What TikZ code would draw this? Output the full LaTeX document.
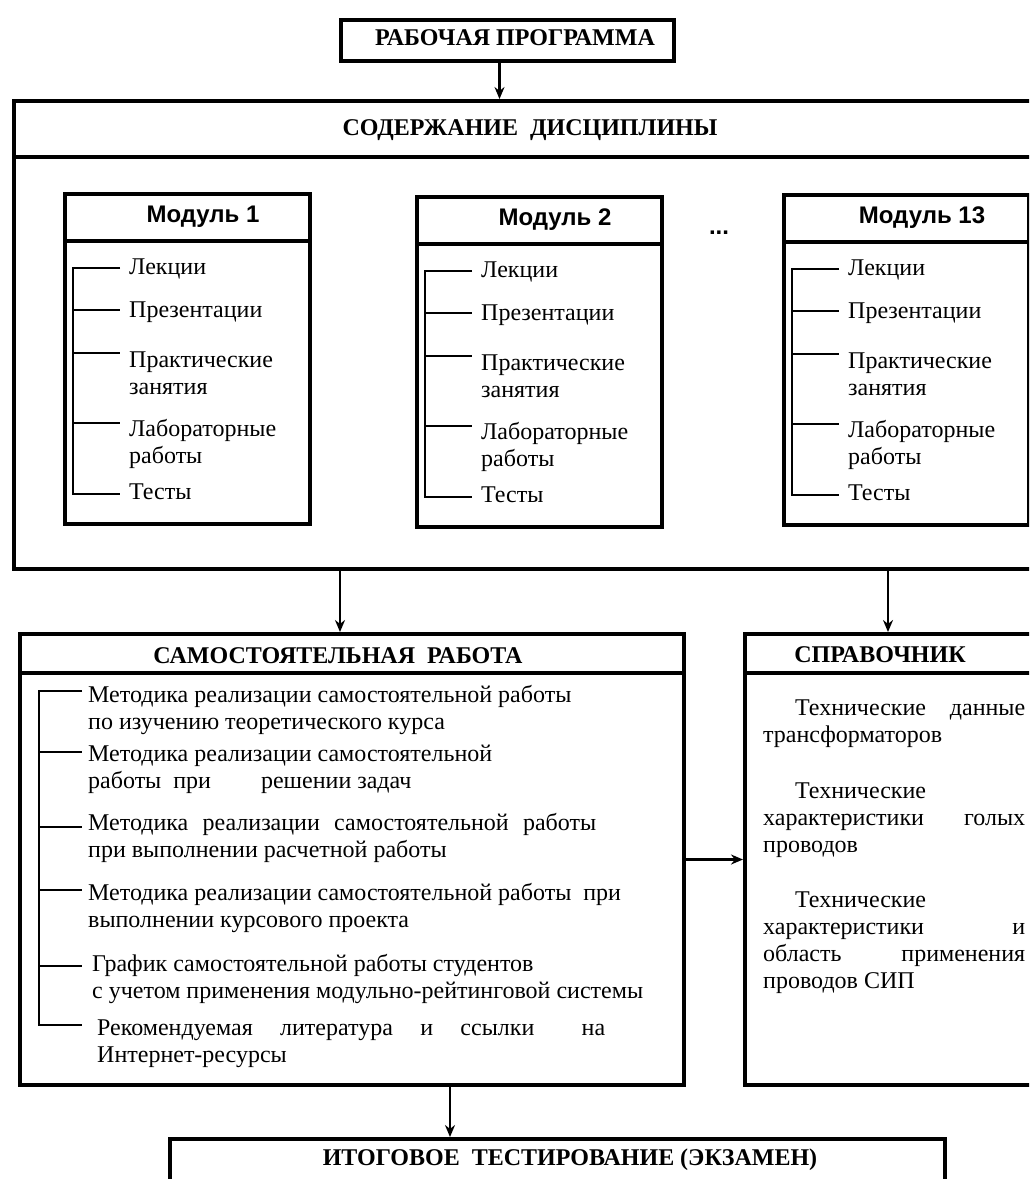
\documentclass[tikz,border=0pt]{standalone}
\usepackage{fontspec}
\setmainfont{Liberation Serif}
\setsansfont{Liberation Sans}
\usetikzlibrary{arrows.meta}

\newcommand\itemfont{\fontsize{24}{27}\selectfont}
\newcommand\headfont{\fontsize{24}{28}\selectfont\bfseries}
\newcommand\modfont{\fontsize{24}{28}\selectfont\sffamily\bfseries}

\begin{document}
\begin{tikzpicture}[x=1pt,y=-1pt,>={Stealth[length=12pt,width=10pt]},
  panel/.style={draw,line width=4pt,inner sep=0pt,anchor=north west},
  divider/.style={line width=3.8pt},
  twig/.style={line width=2.6pt},
  arr/.style={line width=2.4pt,->},
  headtxt/.style={font=\headfont,inner sep=0pt},
  modtxt/.style={font=\modfont,inner sep=0pt},
  entry/.style={font=\itemfont,anchor=west,align=left,inner sep=0pt}]
\useasboundingbox (0,0) rectangle (1029,1179);
\clip (0,0) rectangle (1029,1179);
% work programme
\node[panel,minimum width=333pt,minimum height=41pt] (prog) at (339,18) {};
\node[headtxt] (progtitle) at (515,38) {РАБОЧАЯ ПРОГРАММА};
% course content
\node[panel,minimum width=1050pt,minimum height=468pt] (content) at (12,99) {};
\draw[divider] (12,157) -- (1062,157);
\node[headtxt] (contenttitle) at (530,130) {СОДЕРЖАНИЕ\ \ ДИСЦИПЛИНЫ};
% modules
\foreach \m/\x/\y/\n in {m1/63/192/1,m2/415/195/2,m13/782/193/13}{
  \node[panel,minimum width=245pt,minimum height=330pt] (\m) at (\x,\y) {};
  \draw[divider] (\x,\y+49) -- (\x+245,\y+49);
  \node[modtxt] (\m-title) at (\x+140,\y+25) {Модуль \n};
  \node[entry] (\m-lec) at (\x+66,\y+77) {Лекции};
  \node[entry] (\m-pres) at (\x+66,\y+120) {Презентации};
  \node[entry] (\m-prac) at (\x+66,\y+181) {Практические\\занятия};
  \node[entry] (\m-lab) at (\x+66,\y+252) {Лабораторные\\работы};
  \node[entry] (\m-test) at (\x+66,\y+300) {Тесты};
  \draw[twig] (\x+57,\y+76) -| (\x+10,\y+302) -- (\x+57,\y+302);
  \foreach \b in {118,161,231} \draw[twig] (\x+10,\y+\b) -- (\x+57,\y+\b);
}
\node[modtxt,anchor=base] (dots) at (719,234) {...};
% self-study
\node[panel,minimum width=664pt,minimum height=451pt] (selfwork) at (18,632) {};
\draw[divider] (18,673) -- (682,673);
\node[headtxt] (selftitle) at (338,656) {САМОСТОЯТЕЛЬНАЯ\ \ РАБОТА};
\node[entry] (s1) at (88,710) {Методика реализации самостоятельной работы\\по изучению теоретического курса};
\node[entry] (s2) at (88,769) {Методика реализации самостоятельной\\работы\ \ при\hspace{50pt}решении задач};
\node[entry] (s3) at (88,838) {\makebox[508pt][s]{Методика реализации самостоятельной работы}\\при выполнении расчетной работы};
\node[entry] (s4) at (88,908) {Методика реализации самостоятельной работы\ \ при\\выполнении курсового проекта};
\node[entry] (s5) at (92,979) {График самостоятельной работы студентов\\с учетом применения модульно-рейтинговой системы};
\node[entry] (s6) at (97,1044) {\makebox[508pt][s]{Рекомендуемая литература и ссылки\hspace{20pt} на}\\Интернет-ресурсы};
\draw[twig] (82,691) -| (39,1025) -- (82,1025);
\foreach \b in {752,827,890,966} \draw[twig] (39,\b) -- (82,\b);
% reference book
\node[panel,minimum width=330pt,minimum height=451pt] (ref) at (743,632) {};
\draw[divider] (743,673) -- (1073,673);
\node[headtxt] (reftitle) at (880,655) {СПРАВОЧНИК};
\node[entry] (r1) at (763,724) {\makebox[262pt][s]{\hspace{32pt}Технические данные}\\трансформаторов};
\node[entry] (r2) at (763,820) {\hspace*{32pt}Технические\\\makebox[262pt][s]{характеристики голых}\\проводов};
\node[entry] (r3) at (763,943) {\hspace*{32pt}Технические\\\makebox[262pt][s]{характеристики и}\\\makebox[262pt][s]{область применения}\\проводов СИП};
% final test
\node[panel,minimum width=775pt,minimum height=80pt] (exam) at (168,1137) {};
\node[headtxt] (examtitle) at (570,1160) {ИТОГОВОЕ\ \ ТЕСТИРОВАНИЕ (ЭКЗАМЕН)};
% arrows
\coordinate (progout) at ([xshift=-8pt]prog.south);
\coordinate (selfin) at ([xshift=-12pt]selfwork.north);
\coordinate (refin) at ([xshift=145pt]ref.north west);
\coordinate (selfout) at ([xshift=98pt]selfwork.south);
\draw[arr] (progout) -- (progout |- content.north);
\draw[arr] (selfin |- content.south) -- (selfin);
\draw[arr] (refin |- content.south) -- (refin);
\draw[arr] (selfwork.east) -- (selfwork.east -| ref.west);
\draw[arr] (selfout) -- (selfout |- exam.north);
\end{tikzpicture}
\end{document}
